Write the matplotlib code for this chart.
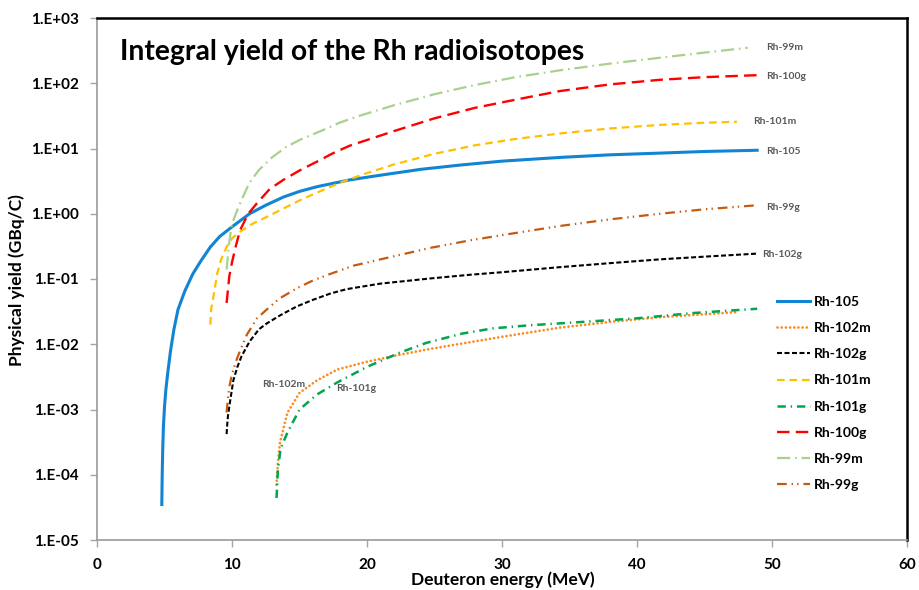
import matplotlib
matplotlib.use("Agg")
import matplotlib.pyplot as plt
from matplotlib.ticker import FixedLocator, FixedFormatter

plt.rcParams['font.family'] = ['Lato', 'DejaVu Sans']
plt.rcParams['lines.scale_dashes'] = False

# ---------------- data ----------------
x_105 = [4.8, 4.83, 4.87, 4.92, 5.0, 5.1, 5.25, 5.45, 5.7, 6.0, 6.5, 7.1, 7.7, 8.4, 9.1, 10.0, 11.3, 12.5,
         13.8, 15.0, 16.3, 18.7, 21.0, 24.0, 27.0, 30.0, 34.3, 38.0, 41.7, 45.0, 48.9]
y_105 = [3.5e-5, 1e-4, 2.5e-4, 5.5e-4, 1.1e-3, 2e-3, 3.8e-3, 8e-3, 0.017, 0.034, 0.065, 0.12, 0.19, 0.31, 0.45,
         0.63, 1.0, 1.35, 1.8, 2.2, 2.6, 3.3, 3.9, 4.8, 5.6, 6.4, 7.3, 8.0, 8.5, 9.0, 9.4]

x_102m = [13.3, 13.4, 13.55, 14.1, 15.0, 16.3, 17.8, 20.0, 22.4, 24.7, 30.0, 34.3, 38.0, 41.7, 47.4]
y_102m = [7e-5, 1.5e-4, 3.1e-4, 8.9e-4, 1.8e-3, 2.8e-3, 4.1e-3, 5.4e-3, 6.9e-3, 8.5e-3, 0.013, 0.018, 0.022,
          0.026, 0.031]

x_102g = [9.6, 9.65, 9.7, 9.85, 10.1, 10.4, 10.7, 11.3, 12.0, 12.6, 13.6, 14.8, 16.0, 17.3, 18.5, 21.0, 24.7,
          27.6, 30.0, 34.3, 38.0, 41.7, 45.0, 48.9]
y_102g = [4.2e-4, 6e-4, 8e-4, 1.3e-3, 2.8e-3, 4.5e-3, 6.5e-3, 0.011, 0.017, 0.021, 0.028, 0.038, 0.048, 0.06,
          0.07, 0.085, 0.102, 0.116, 0.127, 0.152, 0.175, 0.2, 0.22, 0.245]

x_101m = [8.4, 8.45, 8.6, 8.9, 9.2, 9.6, 10.0, 10.6, 11.5, 12.6, 13.8, 15.0, 16.5, 18.2, 20.0, 22.0, 25.0,
          28.0, 31.0, 34.3, 38.0, 41.7, 45.0, 47.4]
y_101m = [0.02, 0.034, 0.05, 0.12, 0.2, 0.31, 0.42, 0.53, 0.7, 0.9, 1.2, 1.6, 2.2, 3.1, 4.2, 5.7, 8.3, 11.2,
          14.0, 17.0, 20.3, 23.0, 24.8, 25.7]

x_101g = [13.3, 13.4, 13.6, 14.1, 15.0, 16.3, 17.8, 20.0, 22.4, 24.4, 27.0, 29.3, 32.0, 36.7, 40.0, 44.1, 48.9]
y_101g = [4.4e-5, 1.2e-4, 2.5e-4, 4.4e-4, 1e-3, 1.7e-3, 2.6e-3, 4.5e-3, 7.4e-3, 0.0105, 0.0145, 0.0175,
          0.0195, 0.0225, 0.025, 0.030, 0.035]

x_100g = [9.6, 9.8, 10.0, 10.3, 10.6, 11.2, 11.85, 12.8, 13.8, 15.0, 16.3, 17.5, 18.7, 20.0, 22.0, 25.0,
          28.0, 31.0, 34.3, 38.0, 41.7, 45.0, 48.9]
y_100g = [0.043, 0.11, 0.18, 0.33, 0.56, 1.0, 1.45, 2.4, 3.3, 4.6, 6.3, 8.5, 11.0, 13.5, 18.5, 29.0, 42.0,
          56.0, 76.0, 96.0, 113.0, 124.0, 133.0]

x_99m = [9.6, 9.75, 9.85, 10.0, 10.4, 10.8, 11.3, 12.0, 13.0, 14.0, 15.0, 16.7, 18.0, 19.5, 22.0, 25.0,
         28.0, 31.0, 34.3, 38.0, 41.7, 45.0, 48.2]
y_99m = [0.14, 0.3, 0.44, 0.7, 1.15, 1.8, 3.0, 4.7, 7.4, 10.5, 13.5, 19.0, 25.0, 32.0, 46.0, 68.0, 94.0,
         124.0, 158.0, 200.0, 246.0, 295.0, 350.0]

x_99g = [9.6, 9.7, 9.8, 10.0, 10.3, 10.6, 11.1, 11.85, 12.5, 13.5, 14.8, 16.0, 17.3, 19.0, 21.0, 24.7, 27.6,
         30.0, 34.3, 38.0, 41.7, 45.0, 48.9]
y_99g = [9e-4, 1.5e-3, 2.2e-3, 3.5e-3, 5.5e-3, 8e-3, 0.014, 0.025, 0.033, 0.05, 0.072, 0.095, 0.12, 0.16,
         0.2, 0.3, 0.39, 0.47, 0.65, 0.82, 1.0, 1.17, 1.35]

y_ticks = [1e-5, 1e-4, 1e-3, 1e-2, 1e-1, 1e0, 1e1, 1e2, 1e3]
y_tick_labels = ['1.E-05', '1.E-04', '1.E-03', '1.E-02', '1.E-01', '1.E+00', '1.E+01', '1.E+02', '1.E+03']
x_ticks = [0, 10, 20, 30, 40, 50, 60]

# curve labels: (text, x, y)
curve_labels = [
    ('Rh-99m', 49.6, 347),
    ('Rh-100g', 49.6, 129),
    ('Rh-101m', 48.6, 25.5),
    ('Rh-105', 49.6, 8.9),
    ('Rh-99g', 49.6, 1.26),
    ('Rh-102g', 49.3, 0.24),
    ('Rh-102m', 12.2, 2.4e-3),
    ('Rh-101g', 17.7, 2.1e-3),
]

# ---------------- figure ----------------
fig = plt.figure(figsize=(9.19, 5.90), dpi=100)
ax = fig.add_axes([97/919, 50/590, 810/919, 522/590])

series = [
    ('Rh-105', x_105, y_105, dict(color='#1185D3', lw=2.2, ls='-')),
    ('Rh-102m', x_102m, y_102m, dict(color='#F98E21', lw=2.0, ls=(0, (0.01, 3.0)), dash_capstyle='round')),
    ('Rh-102g', x_102g, y_102g, dict(color='#000000', lw=1.5, ls=(0, (3.6, 1.8)))),
    ('Rh-101m', x_101m, y_101m, dict(color='#FFC000', lw=1.6, ls=(0, (5.5, 3.5)))),
    ('Rh-101g', x_101g, y_101g, dict(color='#00A550', lw=1.8, ls=(0, (6, 3.5, 1, 3.5)))),
    ('Rh-100g', x_100g, y_100g, dict(color='#FF0000', lw=1.7, ls=(0, (9, 4.5)))),
    ('Rh-99m', x_99m, y_99m, dict(color='#A9D18E', lw=1.6, ls=(0, (9.5, 3.5, 1.2, 3.5)))),
    ('Rh-99g', x_99g, y_99g, dict(color='#C55A11', lw=1.6, ls=(0, (7, 3.5, 1, 3, 1, 3.5)))),
]
for name, xs, ys, st in series:
    ax.plot(xs, ys, label=name, **st)

ax.set_yscale('log')
ax.set_ylim(1e-5, 1e3)
ax.set_xlim(0, 60)
ax.yaxis.set_major_locator(FixedLocator(y_ticks))
ax.yaxis.set_major_formatter(FixedFormatter(y_tick_labels))
ax.yaxis.set_minor_locator(FixedLocator([]))
ax.set_xticks(x_ticks)

for lab in ax.get_yticklabels() + ax.get_xticklabels():
    lab.set_fontweight('bold')
    lab.set_fontsize(11)
ax.tick_params(axis='both', which='major', direction='out', length=5, width=1, color='#A6A6A6', pad=8)

for s in ['left', 'bottom']:
    ax.spines[s].set_color('#9A9A9A')
    ax.spines[s].set_linewidth(1.2)
for s in ['top', 'right']:
    ax.spines[s].set_color('#000000')
    ax.spines[s].set_linewidth(1.8)

fig.text(17/919, 1 - 280/590, 'Physical yield (GBq/C)', rotation=90, ha='center', va='center',
         fontsize=12.5, fontweight='bold')
fig.text(503/919, 1.5/590, 'Deuteron energy (MeV)', ha='center', va='bottom',
         fontsize=12.5, fontweight='bold')

fig.text(120/919, 1 - 52/590, 'Integral yield of the Rh radioisotopes', ha='left', va='center',
         fontsize=20.3, fontweight='bold')

for txt, lx, ly in curve_labels:
    ax.text(lx, ly, txt, ha='left', va='center', fontsize=7.5, fontweight='bold', color='#595959')

leg = fig.legend(loc='center left', bbox_to_anchor=(777/919, 1 - 393.5/590), frameon=False,
                 prop={'weight': 'bold', 'size': 10}, handlelength=2.4, handletextpad=0.25,
                 labelspacing=1.02, borderpad=0, borderaxespad=0)

fig.savefig('out.png', dpi=100)
